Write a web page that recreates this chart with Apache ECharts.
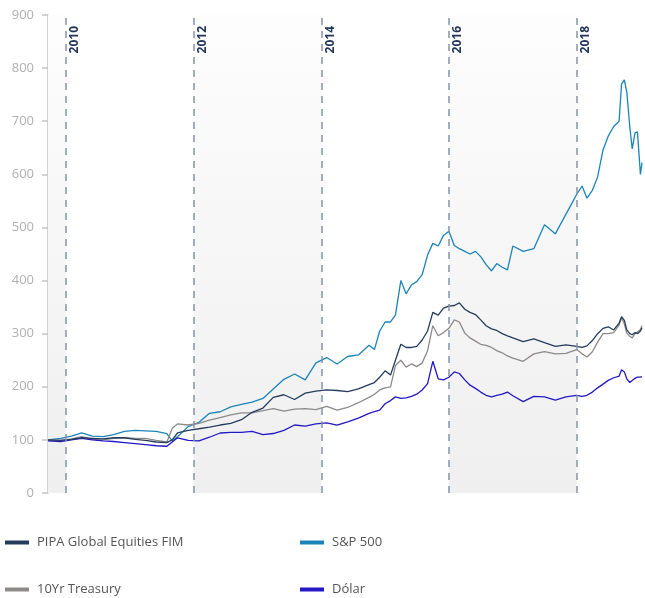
<!DOCTYPE html>
<html>
<head>
<meta charset="utf-8">
<title>PIPA Global Equities FIM</title>
<script src="https://cdn.jsdelivr.net/npm/echarts@6/dist/echarts.min.js"></script>
<style>
  html, body { margin: 0; padding: 0; background: #fff; }
  #chart { width: 645px; height: 598px; }
</style>
</head>
<body>
<div id="chart"></div>
<script>
// datas
var dates = [
    '2009-09-20','2009-12-01','2010-02-01','2010-04-01','2010-06-01','2010-08-01','2010-10-01','2010-12-01',
    '2011-02-01','2011-04-01','2011-06-01','2011-08-01','2011-09-01','2011-10-01','2011-12-01',
    '2012-02-01','2012-04-01','2012-06-01','2012-08-01','2012-10-01','2012-12-01',
    '2013-02-01','2013-04-01','2013-06-01','2013-08-01','2013-10-01','2013-12-01',
    '2014-02-01','2014-04-01','2014-06-01','2014-08-01','2014-10-01','2014-11-01','2014-12-01',
    '2015-01-01','2015-02-01','2015-03-01','2015-04-01','2015-05-01','2015-06-01','2015-07-01','2015-08-01',
    '2015-09-01','2015-10-01','2015-11-01','2015-12-01',
    '2016-01-01','2016-02-01','2016-03-01','2016-04-01','2016-05-01','2016-06-01','2016-07-01','2016-08-01',
    '2016-09-01','2016-10-01','2016-11-01','2016-12-01',
    '2017-01-01','2017-03-01','2017-05-01','2017-07-01','2017-09-01','2017-11-01',
    '2018-01-01','2018-02-01','2018-03-01','2018-04-01','2018-05-01','2018-06-01','2018-07-01','2018-08-01',
    '2018-09-01','2018-09-15','2018-10-01','2018-10-15','2018-11-01','2018-11-15','2018-12-01','2018-12-15',
    '2019-01-01','2019-01-10'
];

var pipa = [100,99,101,104,103,102,104,104, 101,99,96,95,100,113,118, 121,124,128,131,138,152,
    160,180,185,176,188,192, 194,193,191,196,204,208,218,
    230,222,250,280,274,274,276,288,305,340,335,348,
    352,353,358,346,340,336,326,315,309,306,300,296,
    292,285,290,283,276,279,
    276,274,277,287,300,310,313,307,320,332,325,307,300,298,302,300,305,311];

var sp500 = [100,103,107,113,107,106,110,116, 118,117,116,112,98,106,125, 133,150,153,162,167,171,
    178,196,214,224,213,245, 255,243,257,260,278,270,305,
    322,322,335,400,375,392,398,411,448,470,465,485,
    493,466,460,455,450,455,445,430,418,432,425,420,
    465,455,460,505,488,525,
    562,578,555,570,595,646,672,690,700,770,778,755,690,648,678,680,600,622];

var treasury = [100,99,102,106,101,100,103,104, 103,103,99,96,122,130,128, 131,137,142,147,151,151,
    155,159,154,158,159,157, 163,156,161,170,180,186,194,
    198,200,240,250,237,243,238,245,268,315,296,302,
    310,326,322,301,292,286,280,278,274,268,264,258,
    254,248,262,266,262,263,
    270,262,256,266,284,300,300,302,316,330,318,301,295,292,300,303,308,315];

var dolar = [98,97,100,103,100,98,97,95, 93,91,89,88,96,104,99, 98,105,113,114,114,116,
    110,112,118,128,126,130, 132,128,134,141,150,153,156,
    168,174,181,178,179,182,186,194,206,248,215,213,
    218,228,225,213,203,197,190,184,181,184,186,190,
    183,172,182,181,175,181,
    184,182,184,190,198,205,212,217,220,232,228,215,208,212,216,218,218,219];

var yearLines = ['2010', '2012', '2014', '2016', '2018'];
var bands = [['2009-09-20', '2010-01-01'], ['2012-01-01', '2014-01-01'], ['2016-01-01', '2018-01-01']];
var yMin = 0, yMax = 900, yStep = 100;

var names = ['PIPA Global Equities FIM', 'S&P 500', '10Yr Treasury', 'Dólar'];
var colors = ['#253c5e', '#1b84b8', '#8e8989', '#2318c4'];

function pares(vals) {
    return dates.map(function (d, i) { return [d, vals[i]]; });
}

var fundo = new echarts.graphic.LinearGradient(0, 0, 0, 1, [
    { offset: 0, color: '#fdfdfd' },
    { offset: 1, color: '#efefef' }
]);

var legendaBase = {
    padding: 0,
    icon: 'rect',
    itemWidth: 24,
    itemHeight: 4,
    selectedMode: false,
    textStyle: { color: '#555', fontSize: 13, fontFamily: 'Open Sans', padding: [0, 0, 0, 3] }
};

var option = {
    animation: false,
    color: colors,
    grid: { left: 48, right: 3, top: 15, bottom: 105 },
    legend: [
        Object.assign({ left: 5, top: 536, data: [names[0]] }, legendaBase),
        Object.assign({ left: 300, top: 536, data: [names[1]] }, legendaBase),
        Object.assign({ left: 5, top: 583, data: [names[2]] }, legendaBase),
        Object.assign({ left: 300, top: 583, data: [names[3]] }, legendaBase)
    ],
    xAxis: {
        type: 'time',
        min: dates[0],
        max: dates[dates.length - 1],
        axisLine: { show: false },
        axisTick: { show: false },
        axisLabel: { show: false },
        splitLine: { show: false }
    },
    yAxis: {
        type: 'value',
        min: yMin,
        max: yMax,
        interval: yStep,
        axisLine: { show: true, lineStyle: { color: '#c4c4c4', width: 1.5 } },
        axisTick: { show: true, length: 6, lineStyle: { color: '#c4c4c4', width: 1.5 } },
        axisLabel: { color: '#b0b0b0', fontSize: 13, fontFamily: 'Open Sans', margin: 14 },
        splitLine: { show: false }
    },
    series: [
        {
            name: names[0],
            type: 'line',
            symbol: 'none',
            data: pares(pipa),
            itemStyle: { color: colors[0] },
            lineStyle: { width: 1.3, color: colors[0] },
            z: 4,
            markArea: {
                silent: true,
                itemStyle: { color: fundo },
                data: bands.map(function (b) { return [{ xAxis: b[0] }, { xAxis: b[1] }]; })
            },
            markLine: {
                silent: true,
                symbol: 'none',
                lineStyle: { color: '#8792a5', type: [7, 6], width: 1.5 },
                label: {
                    position: 'insideEndBottom',
                    formatter: function (p) { return p.name; },
                    color: '#22365a',
                    fontWeight: 'bold',
                    fontSize: 12,
                    fontFamily: 'Open Sans',
                    distance: 3,
                    padding: [0, 8, 0, 0]
                },
                data: yearLines.map(function (y) { return { name: y, xAxis: y + '-01-01' }; })
            }
        },
        { name: names[1], type: 'line', symbol: 'none', data: pares(sp500),
          itemStyle: { color: colors[1] }, lineStyle: { width: 1.3, color: colors[1] }, z: 3 },
        { name: names[2], type: 'line', symbol: 'none', data: pares(treasury),
          itemStyle: { color: colors[2] }, lineStyle: { width: 1.3, color: colors[2] }, z: 3 },
        { name: names[3], type: 'line', symbol: 'none', data: pares(dolar),
          itemStyle: { color: colors[3] }, lineStyle: { width: 1.3, color: colors[3] }, z: 3 }
    ]
};

var chartPipa = echarts.init(document.getElementById('chart'));
chartPipa.setOption(option);
</script>
</body>
</html>
